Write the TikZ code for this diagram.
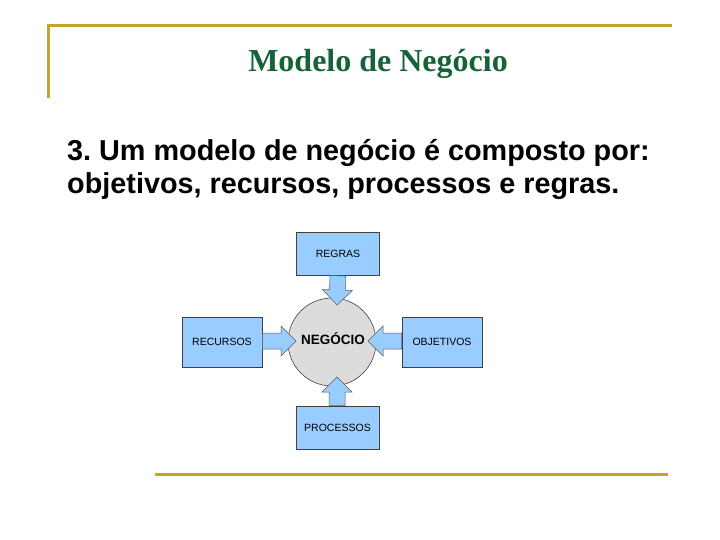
\documentclass[tikz,border=0pt]{standalone}
\usepackage{fontspec}
\setmainfont{Liberation Serif}
\setsansfont{Liberation Sans}
\usetikzlibrary{calc}
\definecolor{goldline}{RGB}{201,161,48}
\definecolor{titlegreen}{RGB}{22,99,58}
\definecolor{boxblue}{RGB}{153,204,255}
\definecolor{circgray}{RGB}{220,220,220}

% block arrow from #1 to the tip #2
\newcommand{\blockarrow}[2]{%
  \path (#1) coordinate (ba-s) (#2) coordinate (ba-t);
  \path ($(ba-t)!15pt!(ba-s)$) coordinate (ba-h);
  \draw[arrowbody] ($(ba-s)!8pt!90:(ba-t)$) -- ($(ba-h)!8pt!90:(ba-t)$)
    -- ($(ba-h)!15pt!90:(ba-t)$) -- (ba-t) -- ($(ba-h)!15pt!-90:(ba-t)$)
    -- ($(ba-h)!8pt!-90:(ba-t)$) -- ($(ba-s)!8pt!-90:(ba-t)$) -- cycle;
}

\begin{document}
\frenchspacing
\begin{tikzpicture}[
    x=1pt, y=-1pt,
    % Slide rules
    rule/.style={goldline, line width=3pt},
    % Title and body text
    slidetitle/.style={font=\fontsize{32}{36}\selectfont\bfseries, text=titlegreen},
    bodytext/.style={font=\sffamily\fontsize{28.8}{33}\selectfont\bfseries, anchor=base west, inner sep=0pt},
    % Diagram parts
    partbox/.style={
      rectangle, draw=black!75, line width=0.6pt, fill=boxblue,
      font=\sffamily\fontsize{10.5}{12}\selectfont, inner sep=0pt
    },
    hub/.style={
      circle, draw=black!75, line width=0.6pt, fill=circgray,
      minimum size=88pt, inner sep=0pt
    },
    arrowbody/.style={draw=black!65, line width=0.5pt, fill=boxblue, line join=miter}
  ]
  \useasboundingbox (0,0) rectangle (720,540);

  % ============ Frame rules ============
  \draw[rule] (48,98) -- (48,26) -- (672,26);
  \draw[rule] (155,474) -- (668,474);

  % ============ Title and text ============
  \node[slidetitle] (title) at (378,64) {Modelo de Negócio};
  \node[bodytext] (body1) at (67,161) {3. Um modelo de negócio é composto por:};
  \node[bodytext] (body2) at (67,194) {objetivos, recursos, processos e regras.};

  % ============ Hub ============
  \node[hub] (neg) at (332,342) {};
  \node[font=\sffamily\fontsize{13.5}{15}\selectfont\bfseries] (neglbl) at (333,339) {NEGÓCIO};

  % ============ Parts ============
  \node[partbox, minimum width=83pt, minimum height=43pt] (regras) at (338,254) {REGRAS};
  \node[partbox, minimum width=80pt, minimum height=50pt] (recursos) at (222,342) {RECURSOS};
  \node[partbox, minimum width=80pt, minimum height=50pt] (objetivos) at (442,342) {OBJETIVOS};
  \node[partbox, minimum width=83pt, minimum height=43pt] (processos) at (337.5,427.5) {PROCESSOS};

  % ============ Arrow tips ============
  \coordinate (tipN) at (337,305);
  \coordinate (tipW) at (296,341);
  \coordinate (tipE) at (368,341);
  \coordinate (tipS) at (337,377);

  % ============ Arrows ============
  \blockarrow{regras.south}{tipN}
  \blockarrow{recursos.east|-tipW}{tipW}
  \blockarrow{objetivos.west|-tipE}{tipE}
  \blockarrow{processos.north-|tipS}{tipS}

  \end{tikzpicture}
\end{document}
